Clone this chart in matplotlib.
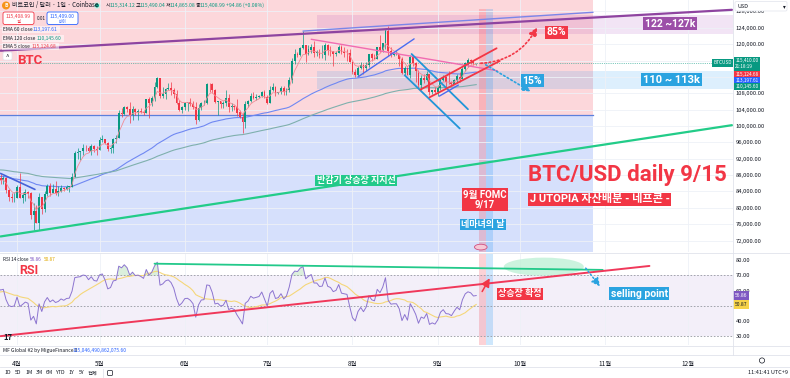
import numpy as np
import pandas as pd
import matplotlib.pyplot as plt
import matplotlib.transforms as mtransforms
from matplotlib.patches import Ellipse, Circle, FancyBboxPatch

plt.rcParams['font.family'] = ['Noto Sans CJK KR', 'DejaVu Sans']
BOLD = ['Roboto', 'Noto Sans CJK KR', 'DejaVu Sans']

# ---- data (BTC/USD daily, thousands of USD) ----
# closes 2025-02-28 .. 2025-09-15 (March kept for indicator warm-up)
close = [84.4,
    86.0, 94.3, 86.1, 87.3, 90.6, 89.9, 86.8, 86.2, 80.7, 78.5,
    82.9, 83.7, 81.1, 84.0, 84.3, 82.6, 84.1, 82.7, 86.9, 84.2,
    84.1, 83.8, 86.1, 87.5, 87.4, 86.9, 87.2, 84.4, 82.6, 82.3, 82.5,
    85.2, 82.5, 83.1, 83.8, 83.5, 78.2, 79.2, 76.3, 82.6, 79.6,
    83.4, 85.3, 83.7, 84.5, 83.6, 84.0, 84.9, 84.5, 85.1, 85.2,
    87.5, 93.4, 93.7, 93.9, 94.7, 94.6, 93.8, 95.0, 94.3, 94.2,
    96.5, 96.9, 95.9, 94.3, 94.7, 96.8, 97.0, 103.2, 102.9, 104.6,
    104.1, 102.8, 104.1, 103.5, 103.7, 103.5, 103.2, 106.5, 105.6, 106.8,
    109.6, 111.7, 107.3, 107.8, 109.0, 109.4, 108.9, 107.8, 105.6, 103.9, 104.6,
    105.7, 105.8, 105.4, 104.7, 101.5, 104.3, 105.6, 105.7, 110.3, 110.2,
    108.7, 105.9, 106.1, 105.4, 105.6, 106.8, 104.6, 104.9, 104.6, 103.3,
    102.2, 100.9, 105.4, 106.0, 107.3, 106.9, 107.1, 107.3, 108.4, 107.1,
    105.7, 108.8, 109.6, 108.0, 108.2, 109.2, 108.2, 108.9, 111.3, 115.9,
    117.5, 117.4, 119.1, 119.8, 117.7, 118.7, 119.4, 117.9, 117.9, 117.3,
    117.4, 119.9, 118.5, 118.3, 117.6, 117.9, 119.4, 118.0, 117.9, 117.8, 115.7,
    113.3, 112.5, 114.2, 115.0, 114.1, 115.0, 117.5, 116.7, 116.5, 119.3,
    118.7, 120.2, 123.3, 118.4, 117.4, 117.5, 117.5, 116.3, 112.9, 114.3,
    112.5, 116.9, 115.4, 113.5, 110.1, 111.8, 111.3, 112.6, 108.4, 108.8, 108.3,
    109.3, 111.3, 112.0, 110.8, 110.7, 110.2, 111.2, 112.1, 111.5, 113.9,
    115.5, 116.1, 115.9, 115.3, 115.41]

# highs / lows 2025-03-26 .. 2025-09-15 (drawn candles)
high = [88.3, 87.8, 87.5, 84.6, 83.5, 83.9,
    85.5, 88.5, 83.9, 84.7, 84.2, 83.8, 81.2, 80.8, 83.5, 82.7, 84.2, 85.9, 86.1, 85.8,
    86.5, 85.4, 85.5, 85.0, 85.6, 85.3, 88.4, 93.8, 94.7, 94.0, 95.7, 95.3, 95.2, 95.6, 95.4, 95.2,
    97.4, 97.9, 96.9, 96.0, 95.2, 97.0, 97.7, 103.9, 104.3, 104.9, 104.9, 105.8, 104.9, 104.3,
    104.2, 104.5, 103.7, 106.7, 107.1, 107.3, 110.7, 111.9, 111.8, 109.5, 109.3, 110.4, 110.7,
    109.3, 108.9, 106.3, 104.9,
    105.9, 105.9, 106.8, 106.0, 105.9, 105.3, 105.9, 106.4, 110.6, 110.4, 110.4, 109.0, 106.2,
    106.2, 106.1, 108.9, 107.7, 105.6, 105.2, 106.5, 103.9, 103.1, 106.0, 106.3, 108.0, 108.3,
    107.7, 107.6, 108.5, 108.8,
    107.5, 109.7, 110.5, 109.7, 108.4, 109.7, 109.7, 109.2, 111.9, 116.7, 118.8, 118.0, 119.4,
    123.2, 119.9, 119.8, 120.0, 120.8, 118.6, 118.9, 119.7, 120.2, 120.1, 119.5, 118.4, 118.3,
    119.8, 119.8, 119.3, 118.8, 118.9,
    116.0, 114.0, 114.7, 115.7, 115.1, 115.7, 117.6, 117.9, 117.6, 119.3, 122.3, 120.3, 123.6,
    124.5, 119.2, 117.9, 118.6, 117.6, 116.8, 114.6, 114.3, 117.4, 117.0, 115.7, 113.6, 112.4,
    112.6, 113.5, 112.6, 108.9, 109.5,
    109.9, 111.8, 112.5, 112.2, 113.4, 110.9, 111.5, 112.8, 113.2, 114.3, 115.6, 116.6, 116.4,
    116.0, 115.49]
low = [85.9, 85.8, 83.6, 81.6, 81.5, 81.3,
    82.4, 82.3, 81.2, 81.7, 82.4, 77.2, 74.5, 76.2, 74.6, 78.4, 78.9, 82.8, 83.0, 83.7,
    83.1, 83.0, 83.8, 84.1, 84.3, 83.9, 85.1, 87.5, 91.9, 91.7, 92.9, 93.9, 93.6, 92.9, 93.7, 92.9,
    94.2, 96.2, 95.7, 94.0, 93.5, 93.4, 95.8, 97.0, 102.3, 102.8, 103.3, 100.8, 101.5, 102.6,
    101.4, 103.1, 102.6, 103.1, 102.0, 104.9, 106.1, 109.3, 106.8, 106.9, 106.6, 108.7, 107.5,
    106.8, 105.3, 103.7, 103.1,
    103.9, 103.7, 105.0, 104.2, 100.4, 101.1, 103.9, 105.1, 105.3, 108.4, 108.1, 105.7, 102.7,
    104.3, 104.5, 105.0, 103.4, 103.6, 103.9, 102.4, 101.9, 98.2, 99.6, 104.7, 105.9, 106.6,
    106.4, 106.8, 107.2, 106.8,
    105.3, 105.6, 108.6, 107.3, 107.8, 107.8, 107.5, 107.5, 108.4, 110.6, 115.2, 116.9, 117.2,
    118.9, 115.7, 117.3, 117.8, 116.8, 117.2, 116.5, 116.5, 116.2, 117.4, 117.2, 114.7, 117.2,
    117.8, 117.5, 116.9, 115.8, 115.6,
    112.7, 112.0, 112.2, 114.0, 112.7, 113.4, 114.3, 115.9, 116.3, 116.4, 118.1, 118.2, 118.9,
    117.2, 116.8, 117.2, 117.3, 114.7, 112.7, 112.4, 112.4, 111.7, 114.6, 110.8, 109.3, 108.7,
    110.4, 110.9, 107.5, 107.9, 108.1,
    107.3, 108.8, 110.9, 109.3, 110.2, 109.9, 110.2, 110.6, 110.8, 111.4, 113.4, 114.3, 115.2,
    114.8, 114.87]

ema_seed = {5: 86.6, 60: 87.7, 120: 89.3}      # values at left edge of the chart
legend_ema = {5: 115124.68, 60: 113197.61, 120: 110145.60}
rsi_now, rsi_ma_now = 56.86, 50.87

months = ['2025-04-01', '2025-05-01', '2025-06-01', '2025-07-01', '2025-08-01',
          '2025-09-01', '2025-10-01', '2025-11-01', '2025-12-01']
month_labels = ['4월', '5월', '6월', '7월', '8월', '9월', '10월', '11월', '12월']
price_ticks = np.arange(72, 129, 4)
hidden_price_ticks = [112, 116]   # covered by the value tags
rsi_ticks = np.arange(30, 81, 10)
hidden_rsi_ticks = [50]

# drawings (date, price)
line_purple = [('2025-03-26', 118.4), ('2025-12-17', 128.4)]
line_blue_top = [('2025-07-14', 123.2), ('2025-10-27 12:00', 127.8)]
line_pink = [('2025-07-17', 121.2), ('2025-09-22 16:00', 113.5)]
line_blue = [('2025-08-03', 112.0), ('2025-08-23 10:00', 121.3)]
line_cyan1 = [('2025-08-22 12:00', 117.6), ('2025-09-12', 104.1)]
line_cyan2 = [('2025-08-20', 112.4), ('2025-09-09', 99.4)]
line_red_up = [('2025-08-25 18:00', 108.9), ('2025-09-22 10:00', 119.0)]
line_red_lo = [('2025-08-29', 107.0), ('2025-09-23 14:00', 115.9)]
line_small_blue = [('2025-09-01 14:00', 107.3), ('2025-09-08 12:00', 110.0)]
line_support = [('2025-03-26', 73.0), ('2025-12-17', 100.2)]
line_darkblue = [('2025-03-26', 88.4), ('2025-04-07 12:00', 84.5)]
level_split, zone_end = 102.6, '2025-10-27 12:00'
zone_purple, zone_blue, zone_start = (122.6, 127.2), (109.1, 113.5), '2025-07-19'
fomc_span = ('2025-09-16', '2025-09-18 12:00')
witch_span = ('2025-09-18 12:00', '2025-09-21')
rsi_green = [('2025-05-21', 77.8), ('2025-10-31', 73.7)]
rsi_red = [('2025-03-26', 29.9), ('2025-11-17', 76.3)]

T0 = pd.Timestamp('2025-04-01')
def d(s):
    return (pd.Timestamp(s) - T0).total_seconds() / 86400

def seg(a, pts, **kw):
    a.plot([d(p[0]) for p in pts], [p[1] for p in pts], solid_capstyle='round', **kw)

# ---- series ----
dates = pd.date_range('2025-02-28', periods=len(close))
day_all = (dates - T0).days.values.astype(float)
c_all = np.array(close)
o_all = np.r_[c_all[0], c_all[:-1]]
vis = day_all >= -6
dv, cv, ov_ = day_all[vis], c_all[vis], o_all[vis]
ov_[-1] = 115.31
hv, lv = np.array(high), np.array(low)

def ema(vals, span, seed):
    a, prev, out = 2 / (span + 1), seed, []
    for v in vals:
        prev = prev + a * (v - prev)
        out.append(prev)
    return np.array(out)

delta = np.diff(c_all)
gain = pd.Series(np.clip(delta, 0, None)).ewm(alpha=1/14, adjust=False).mean()
loss = pd.Series(np.clip(-delta, 0, None)).ewm(alpha=1/14, adjust=False).mean()
rsi = (100 - 100 / (1 + gain / loss)).values
rsi_ma = pd.Series(rsi).rolling(14).mean().values
rsi_day = day_all[1:]

RED, GREEN, BLUE, CYAN = '#f23645', '#089981', '#2962ff', '#2aa3e0'

fig = plt.figure(figsize=(7.9, 3.78), dpi=100)
W, H = 790, 378
def rect(x0, y0, x1, y1):
    return [x0 / W, 1 - y1 / H, (x1 - x0) / W, (y1 - y0) / H]

ax = fig.add_axes(rect(0, 0, 733, 252))
ax2 = fig.add_axes(rect(0, 254, 733, 345))
XL = (-6.2, 260.4)
mdays = [d(m) for m in months]

# ---- price pane ----
ax.set_xlim(*XL)
ax.set_ylim(69.2, 130.8)
ax.set_axisbelow(True)
ax.set_xticks(mdays)
ax.set_yticks(price_ticks)
ax.grid(color='#eef1f7', lw=0.6)
ax.yaxis.tick_right()
ax.set_yticklabels(['' if v in hidden_price_ticks else f'{v * 1000:,.2f}' for v in price_ticks])
ax.tick_params(axis='y', length=0, pad=2, labelsize=4.2, labelcolor='#131722')
ax.tick_params(axis='x', length=0, labelbottom=False)
for s in ax.spines.values():
    s.set_visible(False)

xe = d(zone_end)
ax.fill_between([XL[0], xe], level_split, 130.8, color='#fcd7db', lw=0, zorder=0.1)
ax.fill_between([XL[0], xe], 69.2, level_split, color='#d6e0fc', lw=0, zorder=0.1)
ax.plot([XL[0], xe], [level_split] * 2, color='#5b7fdc', lw=0.9, zorder=1)
ax.fill_between([d(zone_start), XL[1]], *zone_purple, color='#9c27b0', alpha=0.12, lw=0, zorder=0.2)
ax.fill_between([d(zone_start), XL[1]], *zone_blue, color='#2196f3', alpha=0.15, lw=0, zorder=0.2)
ax.axvspan(d(fomc_span[0]), d(fomc_span[1]), ymax=0.965, color=RED, alpha=0.22, lw=0, zorder=0.3)
ax.axvspan(d(witch_span[0]), d(witch_span[1]), ymax=0.965, color='#2196f3', alpha=0.22, lw=0, zorder=0.3)

# candles
up = cv >= ov_
col = np.where(up, GREEN, RED)
ax.vlines(dv, lv, hv, colors=col, lw=0.5, zorder=3)
body = np.maximum(np.abs(cv - ov_), 0.12)
ax.bar(dv, body, bottom=np.minimum(ov_, cv), width=0.7, color=col, lw=0, zorder=4)

ax.plot(dv, ema(cv, 5, ema_seed[5]), color='#f28b95', lw=0.6, zorder=5)
ax.plot(dv, ema(cv, 60, ema_seed[60]), color='#7088f2', lw=0.8, zorder=2)
ax.plot(dv, ema(cv, 120, ema_seed[120]), color='#7fb0ad', lw=0.8, zorder=2)
ax.axhline(cv[-1], color=GREEN, lw=0.5, ls=':', zorder=2)

seg(ax, line_purple, color='#8e44a0', lw=1.6, zorder=6)
seg(ax, line_blue_top, color='#7b86e8', lw=1.0, zorder=6)
seg(ax, line_pink, color='#f06cb2', lw=1.0, zorder=6)
seg(ax, line_blue, color='#4a6cf0', lw=1.0, zorder=6)
seg(ax, line_cyan1, color='#2196d8', lw=1.3, zorder=6)
seg(ax, line_cyan2, color='#2196d8', lw=1.3, zorder=6)
seg(ax, line_red_up, color=RED, lw=1.3, zorder=6)
seg(ax, line_red_lo, color=RED, lw=1.3, zorder=6)
seg(ax, line_small_blue, color='#4a6cf0', lw=1.0, zorder=6)
seg(ax, line_support, color='#22cc88', lw=1.6, zorder=6)
seg(ax, line_darkblue, color='#4561d8', lw=1.2, zorder=6)

ax.annotate('', xy=(d('2025-10-07 14:00'), 124.7), xytext=(d('2025-09-15 16:00'), 115.3),
            arrowprops=dict(arrowstyle='-|>,head_length=0.5,head_width=0.25', color=RED, lw=1.2,
                            ls=(0, (1, 1.5)), connectionstyle='arc3,rad=0.3'), zorder=7)
ax.annotate('', xy=(d('2025-10-05 16:00'), 108.1), xytext=(d('2025-09-17 14:00'), 115.3),
            arrowprops=dict(arrowstyle='-|>,head_length=0.5,head_width=0.25', color=CYAN, lw=1.2,
                            ls=(0, (1, 1.5))), zorder=7)

def tag(a, x, y, s, fc, fs, ha='center', **kw):
    a.text(x, y, s, ha=ha, va='center', color='white', fontsize=fs, fontweight='bold', family=BOLD,
           zorder=9, bbox=dict(boxstyle='square,pad=0.15', fc=fc, ec='none'), **kw)

tag(ax, d('2025-10-14 05:00'), 122.9, '85%', RED, 7.5)
tag(ax, d('2025-10-05 10:00'), 111.1, '15%', CYAN, 7.5)
tag(ax, d('2025-11-24 12:00'), 125.0, '122 ~127k', '#9c4fa8', 7.5)
tag(ax, d('2025-11-25'), 111.35, '110 ~ 113k', CYAN, 8)
tag(ax, d('2025-08-02 08:00'), 86.7, '반감기 상승장 지지선', '#22c98a', 6.5)
tag(ax, d('2025-09-18 06:00'), 82.0, '9월 FOMC\n9/17', RED, 7, linespacing=1.0)
tag(ax, d('2025-09-17 12:00'), 75.9, '네마녀의 날', CYAN, 6.5)
tag(ax, d('2025-10-04 12:00'), 82.05, 'J UTOPIA 자산배분 - 네프콘 -', RED, 8, ha='left')
ax.text(d('2025-10-04'), 88.0, 'BTC/USD daily 9/15', color=RED, fontsize=16, family=BOLD,
        fontweight='bold', va='center', ha='left', zorder=9)
ax.text(d('2025-04-01'), 116.1, 'BTC', color=RED, fontsize=9.5, fontweight='bold', family=BOLD,
        va='center', zorder=9)
ax.add_patch(Ellipse((d('2025-09-16 16:00'), 70.4), 4.6, 1.4, fc='#f6c8d6', ec='#d05080', lw=0.6, zorder=9))

# price-axis tags
bl = mtransforms.blended_transform_factory(ax.transAxes, ax.transData)
ax.text(0.998, cv[-1], 'BTCUSD', transform=bl, ha='right', va='center', fontsize=3.4, color='white',
        bbox=dict(boxstyle='square,pad=0.25', fc=GREEN, ec='none'), zorder=9, clip_on=False)
ax.text(1.003, cv[-1] - 0.25, f'{cv[-1] * 1000:,.2f}\n21:18:19', transform=bl, ha='left', va='center',
        fontsize=3.4, color='white', linespacing=1.25,
        bbox=dict(boxstyle='square,pad=0.3', fc=GREEN, ec='none'), zorder=9, clip_on=False)
ytag = cv[-1] - 2.85
for span, fc in [(5, RED), (60, BLUE), (120, GREEN)]:
    ytag = min(legend_ema[span] / 1000, ytag)
    ax.text(1.003, ytag, f'{legend_ema[span]:,.2f}', transform=bl, ha='left', va='center',
            fontsize=3.4, color='white', bbox=dict(boxstyle='square,pad=0.3', fc=fc, ec='none'),
            zorder=9, clip_on=False)
    ytag -= 1.45

# ---- RSI pane ----
ax2.set_xlim(*XL)
ax2.set_ylim(24.05, 84.2)
ax2.set_axisbelow(True)
ax2.set_xticks(mdays)
ax2.set_xticklabels(month_labels)
ax2.grid(axis='x', color='#eef1f7', lw=0.6)
ax2.yaxis.tick_right()
ax2.set_yticks(rsi_ticks)
ax2.set_yticklabels(['' if v in hidden_rsi_ticks else f'{v:.2f}' for v in rsi_ticks])
ax2.tick_params(axis='y', length=0, pad=2, labelsize=4.2, labelcolor='#131722')
ax2.tick_params(axis='x', length=0, pad=10.5, labelsize=4.6, labelcolor='#131722')
for s in ax2.spines.values():
    s.set_visible(False)
ax2.axhspan(30, 70, color='#7e57c2', alpha=0.09, lw=0, zorder=0.1)
for lvl in (30, 50, 70):
    ax2.axhline(lvl, color='#9598a1', lw=0.6, ls=(0, (2, 2)), zorder=1)
ax2.axvspan(d(fomc_span[0]), d(fomc_span[1]), color=RED, alpha=0.22, lw=0, zorder=0.3)
ax2.axvspan(d(witch_span[0]), d(witch_span[1]), color='#2196f3', alpha=0.22, lw=0, zorder=0.3)
ax2.fill_between(rsi_day, rsi, 70, where=rsi > 70, interpolate=True, color='#4caf50', alpha=0.2, lw=0)
ax2.plot(rsi_day, rsi_ma, color='#f5d77a', lw=0.8, zorder=3)
ax2.plot(rsi_day, rsi, color='#8c74d0', lw=0.7, zorder=4)
ax2.add_patch(Ellipse((d('2025-10-09 14:00'), 75.8), 29.1, 12, fc='#bff0d6', ec='none', alpha=0.8, zorder=2))
seg(ax2, rsi_green, color='#22c98a', lw=1.3, zorder=5)
seg(ax2, rsi_red, color='#f0385a', lw=1.4, zorder=5)
ax2.annotate('', xy=(d('2025-09-20 10:00'), 69.8), xytext=(d('2025-09-16 16:00'), 57.8),
             arrowprops=dict(arrowstyle='-|>,head_length=0.5,head_width=0.25', color=RED, lw=1.1), zorder=7)
ax2.annotate('', xy=(d('2025-10-30 16:00'), 61.3), xytext=(d('2025-10-24 05:00'), 76.3),
             arrowprops=dict(arrowstyle='-|>,head_length=0.5,head_width=0.25', color=CYAN, lw=1.1,
                             ls=(0, (1, 1.5))), zorder=7)
tag(ax2, d('2025-10-01'), 58.0, '상승장 확정', RED, 6.5)
tag(ax2, d('2025-11-13 08:00'), 58.0, 'selling point', CYAN, 7.5)
ax2.text(d('2025-04-01 18:00'), 73.4, 'RSI', color=RED, fontsize=9, fontweight='bold', family=BOLD,
         va='center', zorder=9)
bl2 = mtransforms.blended_transform_factory(ax2.transAxes, ax2.transData)
ax2.text(1.003, rsi_now, f'{rsi_now:.2f}', transform=bl2, fontsize=3.6, color='white', va='center',
         bbox=dict(boxstyle='square,pad=0.35', fc='#7e57c2', ec='none'), clip_on=False, zorder=9)
ax2.text(1.003, rsi_ma_now, f'{rsi_ma_now:.2f}', transform=bl2, fontsize=3.6, color='#131722', va='center',
         bbox=dict(boxstyle='square,pad=0.35', fc='#f7d348', ec='none'), clip_on=False, zorder=9)

# ---- chrome overlay (pixel coords) ----
ovl = fig.add_axes([0, 0, 1, 1], zorder=5)
ovl.set_xlim(0, W)
ovl.set_ylim(H, 0)
ovl.axis('off')
for y in (253, 346, 355, 367):
    ovl.plot([0, W], [y, y], color='#e0e3eb', lw=0.6)
ovl.plot([733, 733], [0, 355], color='#e0e3eb', lw=0.6)

ovl.add_patch(Circle((6, 5.5), 3.3, color='#f7931a'))
ovl.text(6, 5.6, 'B', fontsize=3.6, color='white', ha='center', va='center', fontweight='bold')
ovl.text(12, 5.5, '비트코인 / 달러 · 1일 · Coinbase', fontsize=4.4, va='center', color='#131722')
ovl.add_patch(Circle((97, 5.5), 2.6, color='#cdeee4'))
ovl.add_patch(Circle((97, 5.5), 1.3, color=GREEN))
ohlc = [('시', '115,314.12'), ('고', '115,490.04'), ('저', '114,865.08'), ('종', '115,408.99')]
x = 106
for k, v in ohlc:
    ovl.text(x, 5.5, k, fontsize=3.7, va='center', color='#131722')
    ovl.text(x + 4, 5.5, v, fontsize=3.7, va='center', color=GREEN)
    x += 30
ovl.text(x, 5.5, '+94.86 (+0.08%)', fontsize=3.7, va='center', color=GREEN)

for x0, ec, price, word in [(3, RED, '115,408.99', '셀'), (47, BLUE, '115,409.00', '바이')]:
    ovl.add_patch(FancyBboxPatch((x0, 12), 31, 12.5, boxstyle='round,pad=0,rounding_size=2',
                                 fc='white', ec=ec, lw=0.6))
    ovl.text(x0 + 15.5, 16.3, price, fontsize=3.6, ha='center', va='center', color=ec)
    ovl.text(x0 + 15.5, 21.6, word, fontsize=3.0, ha='center', va='center', color=ec)
ovl.text(41, 18, '0.01', fontsize=3.3, ha='center', va='center', color='#131722')

for y, name, vx, span, c in [(29.3, 'EMA 60 close', 33, 60, BLUE), (38.3, 'EMA 120 close', 36.5, 120, GREEN),
                             (46.7, 'EMA 5 close', 31.5, 5, RED)]:
    ovl.add_patch(FancyBboxPatch((2, y - 3.5), vx + 25, 7, boxstyle='square,pad=0',
                                 fc='white', ec='none', alpha=0.55))
    ovl.text(3, y, name, fontsize=3.5, va='center', color='#131722')
    ovl.text(vx, y, f'{legend_ema[span]:,.2f}', fontsize=3.5, va='center', color=c)
ovl.add_patch(FancyBboxPatch((3, 52), 9, 8, boxstyle='round,pad=0,rounding_size=1.5',
                             fc='white', ec='#e0e3eb', lw=0.5))
ovl.text(7.5, 57, '^', fontsize=4.5, ha='center', va='center', color='#131722')

ovl.add_patch(FancyBboxPatch((735, 1.5), 52, 9.5, boxstyle='round,pad=0,rounding_size=1.5',
                             fc='white', ec='#e0e3eb', lw=0.5))
ovl.text(738, 6.3, 'USD', fontsize=4, va='center', color='#131722')
ovl.text(784, 6.3, '▾', fontsize=4, va='center', ha='center', color='#131722')

ovl.text(3, 259.3, 'RSI 14 close', fontsize=3.4, va='center', color='#131722')
ovl.text(30, 259.3, f'{rsi_now:.2f}', fontsize=3.4, va='center', color='#7e57c2')
ovl.text(44, 259.3, f'{rsi_ma_now:.2f}', fontsize=3.4, va='center', color='#e0a800')
ovl.text(3, 338, '17', fontsize=5.5, va='center', fontweight='bold', color='#131722')
ovl.text(3, 350.5, 'MF Global #2 by MigueFinance 0', fontsize=3.6, va='center', color='#131722')
ovl.text(73, 350.5, '115,046,490,862,075.60', fontsize=3.6, va='center', color=BLUE)
ovl.add_patch(Circle((762, 360.5), 2.6, fill=False, ec='#131722', lw=0.5))

tools = ['1D', '5D', '1M', '3M', '6M', 'YTD', '1Y', '5Y', '전체']
tx = [8, 18, 28.7, 39, 49.5, 60, 71, 82, 93]
for t, xx in zip(tools, tx):
    ovl.text(xx, 373, t, fontsize=3.8, ha='center', va='center', color='#131722')
ovl.plot([103, 103], [369, 377], color='#e0e3eb', lw=0.6)
ovl.add_patch(FancyBboxPatch((107.5, 370.5), 5, 5, boxstyle='round,pad=0,rounding_size=1',
                             fill=False, ec='#131722', lw=0.5))
ovl.text(788, 373, '11:41:41 UTC+9', fontsize=4, ha='right', va='center', color='#131722')

fig.savefig('out.png', dpi=100)
